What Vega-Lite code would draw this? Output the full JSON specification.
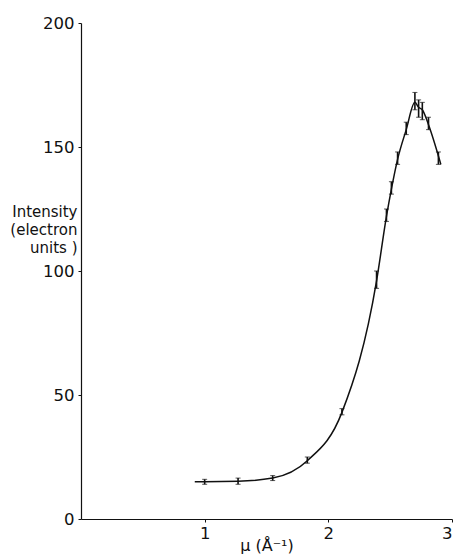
{
  "$schema": "https://vega.github.io/schema/vega-lite/v6.json",
  "autosize": "none",
  "width": 371,
  "height": 496,
  "padding": {"left": 81, "top": 23, "right": 4, "bottom": 35},
  "background": "white",
  "config": {
    "view": {"stroke": null},
    "font": "DejaVu Sans",
    "axis": {
      "grid": false,
      "domainColor": "#111",
      "domainWidth": 1.2,
      "tickColor": "#111",
      "tickSize": 3,
      "labelColor": "#111",
      "labelFont": "DejaVu Sans",
      "labelFontSize": 16.5,
      "titleColor": "#111",
      "titleFont": "DejaVu Sans",
      "titleFontSize": 15,
      "titleFontWeight": "normal"
    }
  },
  "resolve": {"axis": {"x": "independent", "y": "independent"}},
  "datasets": {
    "pts": [
      {"mu": 1.0, "I": 15, "lo": 14, "hi": 16},
      {"mu": 1.27, "I": 15.2, "lo": 14, "hi": 16.5},
      {"mu": 1.55, "I": 16.5, "lo": 15.5, "hi": 17.5},
      {"mu": 1.83, "I": 23.5, "lo": 22.5, "hi": 25},
      {"mu": 2.11, "I": 43, "lo": 42, "hi": 44.5},
      {"mu": 2.39, "I": 96, "lo": 93, "hi": 100},
      {"mu": 2.47, "I": 122, "lo": 120, "hi": 125},
      {"mu": 2.51, "I": 133, "lo": 131, "hi": 136},
      {"mu": 2.56, "I": 145, "lo": 143, "hi": 148},
      {"mu": 2.63, "I": 157, "lo": 155, "hi": 160},
      {"mu": 2.70, "I": 168, "lo": 165, "hi": 172},
      {"mu": 2.73, "I": 166, "lo": 162, "hi": 169},
      {"mu": 2.76, "I": 165, "lo": 161, "hi": 168},
      {"mu": 2.81, "I": 159, "lo": 157, "hi": 162},
      {"mu": 2.89, "I": 145, "lo": 143, "hi": 148}
    ],
    "curve": [
      {"mu": 0.92, "I": 15},
      {"mu": 1.0, "I": 15},
      {"mu": 1.27, "I": 15.2},
      {"mu": 1.55, "I": 16.5},
      {"mu": 1.83, "I": 23.5},
      {"mu": 2.11, "I": 43},
      {"mu": 2.39, "I": 96},
      {"mu": 2.47, "I": 122},
      {"mu": 2.51, "I": 133},
      {"mu": 2.56, "I": 145},
      {"mu": 2.63, "I": 157},
      {"mu": 2.70, "I": 168},
      {"mu": 2.73, "I": 166},
      {"mu": 2.76, "I": 165},
      {"mu": 2.81, "I": 159},
      {"mu": 2.91, "I": 143}
    ]
  },
  "layer": [
    {
      "data": {"name": "curve"},
      "mark": {"type": "line", "interpolate": "monotone", "color": "#111", "strokeWidth": 1.5},
      "encoding": {
        "x": {
          "field": "mu", "type": "quantitative",
          "scale": {"domain": [0, 3], "nice": false},
          "axis": {"values": [1, 2, 3], "format": "~g", "title": "μ (Å⁻¹)", "titleFontSize": 16, "labelPadding": 3, "titlePadding": 0, "tickSize": 3, "titleY": 34, "titleBaseline": "bottom"}
        },
        "y": {
          "field": "I", "type": "quantitative",
          "scale": {"domain": [0, 200], "nice": false},
          "axis": {
            "values": [0, 50, 100, 150, 200],
            "title": ["Intensity", "(electron", "units )"],
            "titleAngle": 0, "titleAlign": "right", "titleBaseline": "top",
            "titleX": -4, "titleY": 181, "titleLineHeight": 18,
            "labelPadding": 4
          }
        }
      }
    },
    {
      "data": {"name": "pts"},
      "mark": {"type": "errorbar", "ticks": {"size": 5, "color": "#111", "strokeWidth": 1.3}, "rule": {"color": "#111", "strokeWidth": 1.6}},
      "encoding": {
        "x": {"field": "mu", "type": "quantitative", "axis": null},
        "y": {"field": "lo", "type": "quantitative", "axis": null},
        "y2": {"field": "hi"}
      }
    }
  ]
}
